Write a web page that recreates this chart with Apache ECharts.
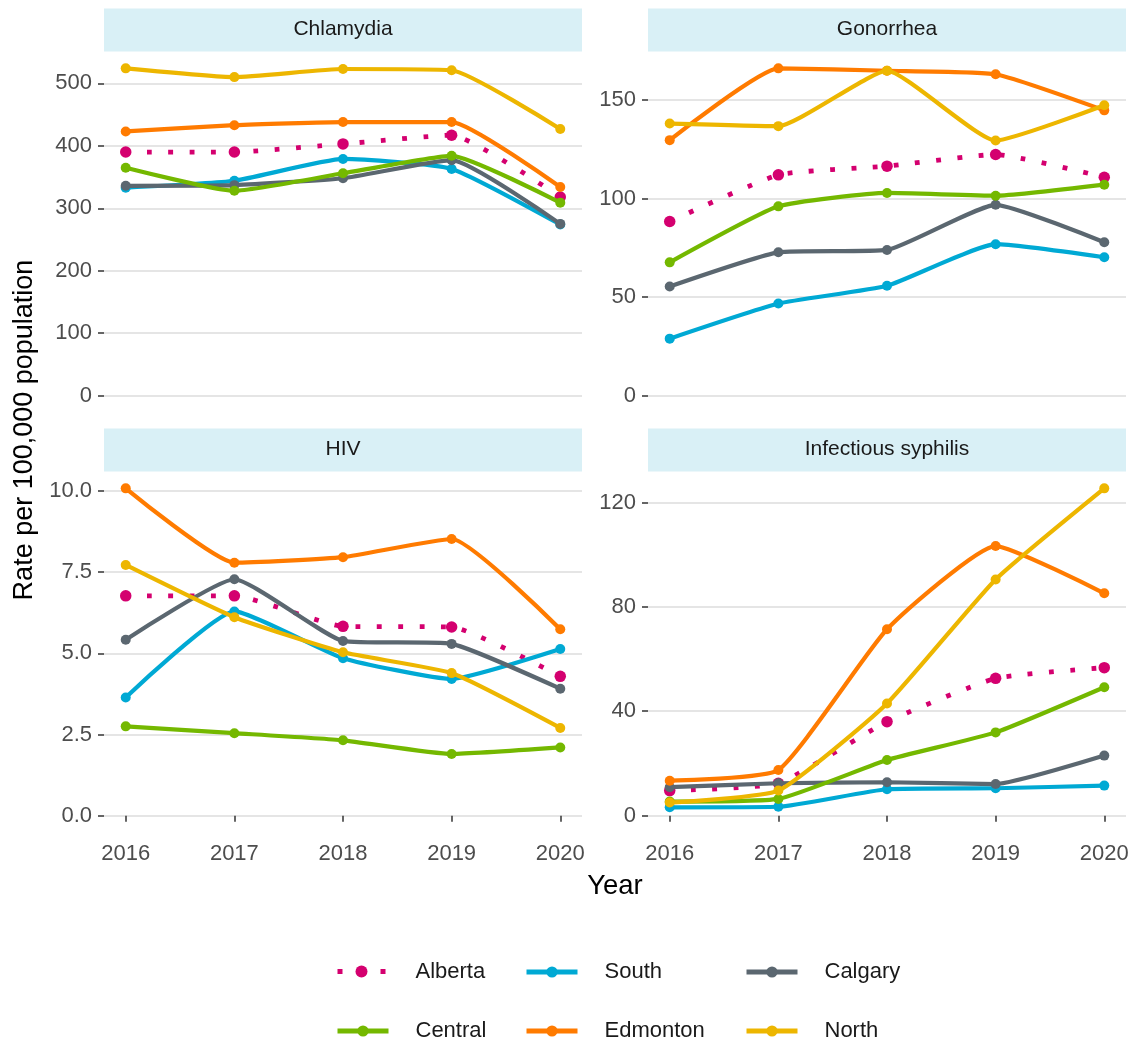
<!DOCTYPE html>
<html>
<head>
<meta charset="utf-8">
<script src="https://cdn.jsdelivr.net/npm/echarts@6/dist/echarts.min.js"></script>
<style>
  html, body { margin: 0; padding: 0; background: #ffffff; }
  #chart { width: 1137px; height: 1042px; }
</style>
</head>
<body>
<div id="chart"></div>
<script>
// Reported STI rates per 100,000 population, Alberta and its health zones
const years = [2016, 2017, 2018, 2019, 2020];
const regions = ['Alberta', 'South', 'Calgary', 'Central', 'Edmonton', 'North'];
const diseases = ['Chlamydia', 'Gonorrhea', 'HIV', 'Infectious syphilis'];

// Each table holds one row per region, in the order of `regions`
const chlamydiaRates = [
  [390, 390, 403, 417, 318],
  [333, 344, 379, 363, 274],
  [336, 337, 348, 377, 275],
  [365, 328, 356, 384, 309],
  [423, 433, 438, 438, 334],
  [524, 510, 523, 521, 427]
];
const gonorrheaRates = [
  [88.3, 112.0, 116.4, 122.3, 110.8],
  [28.9, 46.7, 55.7, 76.8, 70.2],
  [55.4, 72.7, 73.9, 96.8, 77.8],
  [67.6, 96.0, 102.8, 101.4, 107.0],
  [129.6, 166.0, 164.8, 163.0, 144.7],
  [138.0, 136.7, 164.8, 129.4, 147.3]
];
const hivRates = [
  [6.77, 6.77, 5.83, 5.81, 4.29],
  [3.64, 6.29, 4.85, 4.21, 5.13],
  [5.42, 7.28, 5.38, 5.29, 3.91],
  [2.75, 2.54, 2.32, 1.90, 2.10],
  [10.08, 7.79, 7.96, 8.52, 5.74],
  [7.72, 6.11, 5.03, 4.39, 2.70]
];
const syphilisRates = [
  [9.6, 12.4, 36.0, 52.6, 56.7],
  [3.2, 3.4, 10.1, 10.5, 11.5],
  [10.9, 12.4, 12.8, 12.1, 23.0],
  [5.4, 6.4, 21.3, 31.9, 49.2],
  [13.4, 17.5, 71.4, 103.3, 85.2],
  [5.0, 9.6, 43.0, 90.5, 125.4]
];

// Tick labels
const chlamydiaTicks = [0, 100, 200, 300, 400, 500];
const gonorrheaTicks = [0, 50, 100, 150];
const hivTicks = [0, 2.5, 5, 7.5, 10];
const syphilisTicks = [0, 40, 80, 120];
const yearTicks = [2016, 2017, 2018, 2019, 2020];

// ---- styling ----
const FONT = '"Liberation Sans", Arial, Helvetica, sans-serif';
const regionColors = ['#D4006F', '#00A9D4', '#5B6770', '#74B800', '#FF7B00', '#EDB600'];
const AXIS_TEXT = '#4D4D4D';
const GRID_COLOR = '#DCDCDC';
const STRIP_FILL = '#D9F0F6';

const panelRates = [chlamydiaRates, gonorrheaRates, hivRates, syphilisRates];
const panelTicks = [chlamydiaTicks, gonorrheaTicks, hivTicks, syphilisTicks];
const panelDecimals = [0, 0, 1, 0];
const panelLeft = [104, 648, 104, 648];
const panelTop = [52, 52, 472, 472];
const PANEL_W = 478;
const PANEL_H = 360;
const STRIP_H = 43;

// 5% padding on each side of the data range (which is anchored at zero)
function yLimits(rates) {
  const hi = Math.max(...rates.flat());
  return [-0.05 * hi, 1.05 * hi];
}

const grids = [], xAxes = [], yAxes = [], series = [], graphics = [];

diseases.forEach((name, i) => {
  const bottomRow = i >= 2;
  grids.push({ left: panelLeft[i], top: panelTop[i], width: PANEL_W, height: PANEL_H });

  xAxes.push({
    type: 'value', gridIndex: i, min: 2015.8, max: 2020.2,
    axisLine: { show: false },
    splitLine: { show: false },
    axisTick: {
      show: bottomRow, length: 6, customValues: yearTicks,
      lineStyle: { color: '#333333', width: 1.5 }
    },
    axisLabel: {
      show: bottomRow, customValues: yearTicks, margin: 11,
      fontSize: 22, color: AXIS_TEXT, fontFamily: FONT,
      formatter: v => String(v)
    }
  });

  const [lo, hi] = yLimits(panelRates[i]);
  yAxes.push({
    type: 'value', gridIndex: i, min: lo, max: hi,
    axisLine: { show: false },
    axisTick: {
      show: true, length: 6, customValues: panelTicks[i],
      lineStyle: { color: '#333333', width: 1.5 }
    },
    axisLabel: {
      customValues: panelTicks[i], margin: 12,
      fontSize: 22, color: AXIS_TEXT, fontFamily: FONT,
      formatter: v => v.toFixed(panelDecimals[i])
    },
    splitLine: { show: true, lineStyle: { color: GRID_COLOR, width: 1.6 } }
  });

  regions.forEach((region, r) => {
    const color = regionColors[r];
    const isProvince = r === 0;
    series.push({
      type: 'line', name: region, xAxisIndex: i, yAxisIndex: i,
      data: years.map((yr, k) => [yr, panelRates[i][r][k]]),
      smooth: 0.15,
      symbol: 'circle',
      symbolSize: isProvince ? 11.5 : 10,
      showSymbol: true,
      z: 2 + r,
      lineStyle: {
        color, width: isProvince ? 4.8 : 4.2,
        type: isProvince ? [4.8, 16.5] : 'solid', cap: 'butt'
      },
      itemStyle: { color },
      emphasis: { disabled: true },
      silent: true
    });
  });

  // facet strip with the disease name
  graphics.push({
    type: 'rect', silent: true,
    shape: { x: panelLeft[i], y: panelTop[i] - STRIP_H - 0.5, width: PANEL_W, height: STRIP_H },
    style: { fill: STRIP_FILL }
  });
  graphics.push({
    type: 'text', silent: true,
    x: panelLeft[i] + PANEL_W / 2, y: panelTop[i] - STRIP_H / 2 - 1,
    style: {
      text: name, fill: '#1A1A1A', fontSize: 21, fontFamily: FONT,
      textAlign: 'center', textVerticalAlign: 'middle'
    }
  });
});

// axis titles
graphics.push({
  type: 'text', silent: true, x: 615, y: 886,
  style: {
    text: 'Year', fill: '#000000', fontSize: 27.5, fontFamily: FONT,
    textAlign: 'center', textVerticalAlign: 'middle'
  }
});
graphics.push({
  type: 'text', silent: true, x: 25, y: 430, rotation: Math.PI / 2,
  style: {
    text: 'Rate per 100,000 population', fill: '#000000', fontSize: 27, fontFamily: FONT,
    textAlign: 'center', textVerticalAlign: 'middle'
  }
});

// legend: one component per entry, laid out as a 3 x 2 table
const legendCols = [335, 524, 744];
const legendRows = [968, 1027];
const legends = regions.map((region, r) => {
  const isProvince = r === 0;
  const h = isProvince ? 15 : 14;
  return {
    data: [region],
    left: legendCols[r % 3],
    top: legendRows[Math.floor(r / 3)] - h / 2,
    orient: 'horizontal',
    padding: 0,
    itemWidth: isProvince ? 48 : 51,
    itemHeight: h,
    selectedMode: false,
    lineStyle: { width: 5, type: isProvince ? [5, 16.5] : 'solid', cap: 'butt' },
    textStyle: {
      fontSize: 22, color: '#1A1A1A', fontFamily: FONT,
      padding: [0, 0, 0, isProvince ? 25 : 22]
    }
  };
});

const chart = echarts.init(document.getElementById('chart'), null, { renderer: 'canvas' });
chart.setOption({
  animation: false,
  backgroundColor: '#ffffff',
  grid: grids,
  xAxis: xAxes,
  yAxis: yAxes,
  series: series,
  legend: legends,
  graphic: graphics
});
</script>
</body>
</html>
